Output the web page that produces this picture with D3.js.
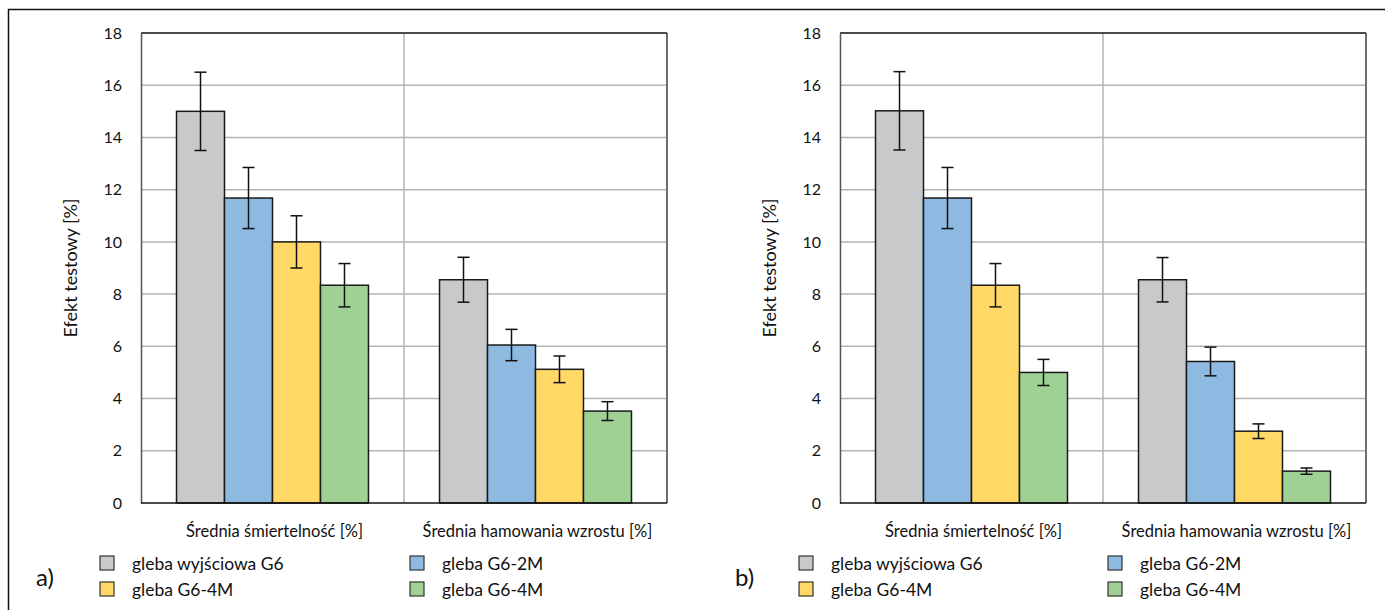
<!DOCTYPE html>
<html>
<head>
<meta charset="utf-8">
<script src="https://cdn.jsdelivr.net/npm/d3@7"></script>
<style>
  body { margin: 0; background: #fff; }
  text { font-family: Lato, "Noto Sans", sans-serif; fill: #111; }
</style>
</head>
<body>
<script>
var svgWidth = 1385;
var svgHeight = 610;

// categories and series
var categories = ["Średnia śmiertelność [%]", "Średnia hamowania wzrostu [%]"];
var seriesNames = ["gleba wyjściowa G6", "gleba G6-2M", "gleba G6-4M", "gleba G6-4M"];
var seriesColors = ["#c8c9cb", "#8ebae2", "#ffd866", "#9ed193"];
var yTicks = [0, 2, 4, 6, 8, 10, 12, 14, 16, 18];

// panel a) values and error bars, [mortality, growth] per series
var valuesA = [[15.0, 8.55], [11.68, 6.05], [10.0, 5.12], [8.34, 3.52]];
var errorsA = [[1.5, 0.86], [1.17, 0.6], [1.0, 0.51], [0.83, 0.36]];

// panel b)
var valuesB = [[15.02, 8.55], [11.68, 5.42], [8.34, 2.75], [5.0, 1.22]];
var errorsB = [[1.5, 0.85], [1.17, 0.55], [0.83, 0.28], [0.5, 0.12]];

var svg = d3.select("body").append("svg")
  .attr("width", svgWidth)
  .attr("height", svgHeight);

// outer frame
svg.append("path")
  .attr("d", "M8.5," + svgHeight + "V9.5H" + svgWidth)
  .attr("fill", "none")
  .attr("stroke", "#111")
  .attr("stroke-width", 1.5);

function drawPanel(left, right, values, errors, letter, legendX2) {
  var top = 33, bottom = 503;
  var g = svg.append("g");

  var y = d3.scaleLinear().domain([0, 18]).range([bottom, top]);
  var x0 = d3.scaleBand().domain(categories).range([left, right]).padding(0);
  var x1 = d3.scaleBand().domain(d3.range(seriesNames.length))
    .range([0, x0.bandwidth()]).paddingInner(0).paddingOuter(0.74);

  // horizontal gridlines
  g.append("g").selectAll("line").data(yTicks.slice(1)).enter().append("line")
    .attr("x1", left).attr("x2", right)
    .attr("y1", d => y(d)).attr("y2", d => y(d))
    .attr("stroke", "#b3b3b3").attr("stroke-width", 1.5);

  // vertical separator between categories
  g.append("line")
    .attr("x1", x0(categories[1])).attr("x2", x0(categories[1]))
    .attr("y1", top).attr("y2", bottom)
    .attr("stroke", "#b3b3b3").attr("stroke-width", 1.5);

  // frame lines
  g.append("line").attr("x1", right).attr("x2", right).attr("y1", top).attr("y2", bottom)
    .attr("stroke", "#6e6e6e").attr("stroke-width", 2);
  g.append("line").attr("x1", left).attr("x2", right).attr("y1", top).attr("y2", top)
    .attr("stroke", "#222").attr("stroke-width", 1.5);

  // y axis tick labels
  var yAxis = d3.axisLeft(y).tickValues(yTicks).tickSize(0).tickPadding(19);
  var ya = g.append("g").attr("transform", "translate(" + left + ",0)").call(yAxis);
  ya.select(".domain").attr("stroke", "#555").attr("stroke-width", 1.5);
  ya.selectAll("text").style("font-size", "16px").attr("fill", "#111")
    .style("font-family", "Lato, 'Noto Sans', sans-serif");

  // bars
  var bars = [];
  values.forEach(function(vals, s) {
    vals.forEach(function(v, c) {
      bars.push({s: s, c: c, v: v, e: errors[s][c]});
    });
  });

  g.append("g").selectAll("rect").data(bars).enter().append("rect")
    .attr("x", d => x0(categories[d.c]) + x1(d.s))
    .attr("y", d => y(d.v))
    .attr("width", x1.bandwidth())
    .attr("height", d => y(0) - y(d.v))
    .attr("fill", d => seriesColors[d.s])
    .attr("stroke", "#1a1a1a")
    .attr("stroke-width", 1.5);

  // error bars
  var eb = g.append("g").selectAll("g").data(bars).enter().append("g")
    .attr("stroke", "#111").attr("stroke-width", 1.5);
  var cx = d => x0(categories[d.c]) + x1(d.s) + x1.bandwidth() / 2;
  eb.append("line").attr("x1", cx).attr("x2", cx)
    .attr("y1", d => y(d.v + d.e)).attr("y2", d => y(d.v - d.e));
  eb.append("line").attr("x1", d => cx(d) - 6).attr("x2", d => cx(d) + 6)
    .attr("y1", d => y(d.v + d.e)).attr("y2", d => y(d.v + d.e));
  eb.append("line").attr("x1", d => cx(d) - 6).attr("x2", d => cx(d) + 6)
    .attr("y1", d => y(d.v - d.e)).attr("y2", d => y(d.v - d.e));

  // x axis line
  g.append("line").attr("x1", left).attr("x2", right).attr("y1", bottom).attr("y2", bottom)
    .attr("stroke", "#111").attr("stroke-width", 1.5);

  // category labels
  g.append("g").selectAll("text").data(categories).enter().append("text")
    .attr("x", d => x0(d) + x0.bandwidth() / 2 + 2)
    .attr("y", 537)
    .attr("text-anchor", "middle")
    .style("font-size", "16.5px")
    .text(d => d);

  // y title
  g.append("text")
    .attr("transform", "translate(" + (left - 64) + ",268) rotate(-90)")
    .attr("text-anchor", "middle")
    .style("font-size", "18px")
    .text("Efekt testowy [%]");

  // legend
  var legendX = [left - 41, legendX2];
  var legendY = [556, 582];
  var lg = g.append("g").selectAll("g").data(seriesNames).enter().append("g")
    .attr("transform", (d, i) => "translate(" + legendX[i % 2] + "," + legendY[Math.floor(i / 2)] + ")");
  lg.append("rect").attr("width", 14).attr("height", 14)
    .attr("fill", (d, i) => seriesColors[i])
    .attr("stroke", "#333").attr("stroke-width", 1.2);
  lg.append("text").attr("x", 32).attr("y", 14)
    .style("font-size", "17.5px")
    .text(d => d);

  // panel letter
  g.append("text")
    .attr("x", left - 105)
    .attr("y", 586)
    .style("font-size", "24px")
    .text(letter);
}

drawPanel(141, 667, valuesA, errorsA, "a)", 410);
drawPanel(840, 1366, valuesB, errorsB, "b)", 1108);
</script>
</body>
</html>
